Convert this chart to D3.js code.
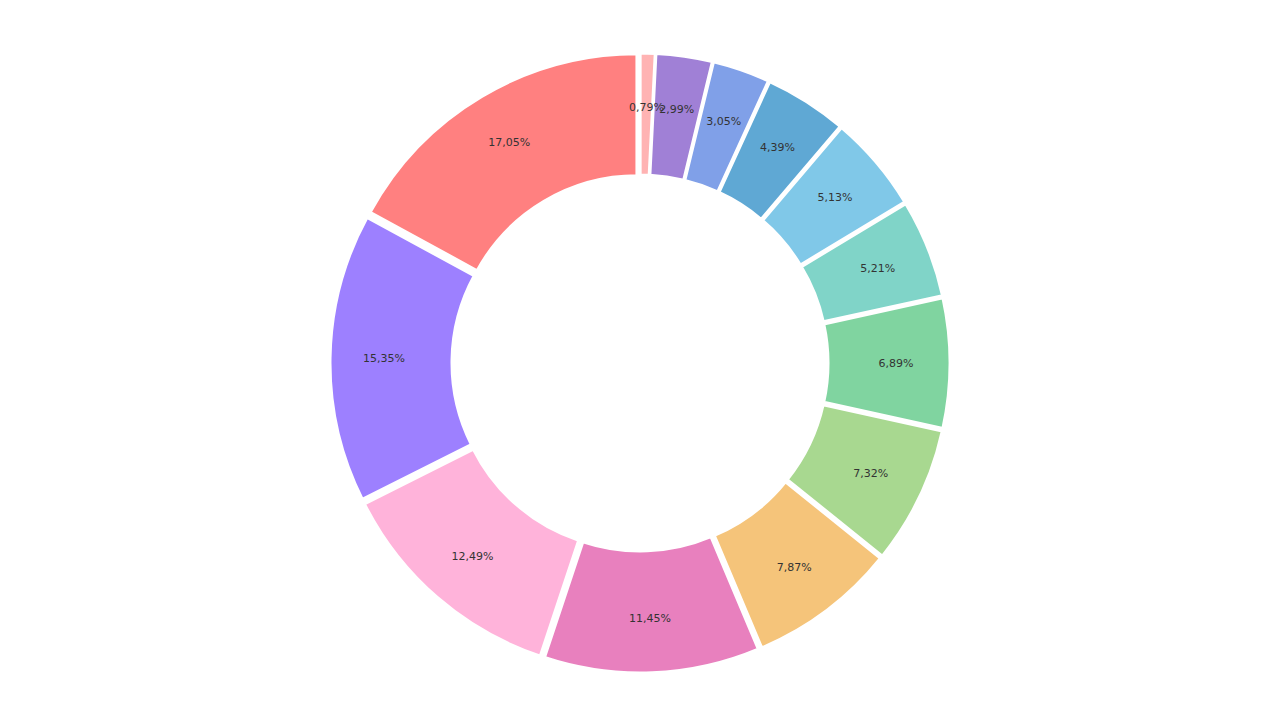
<!DOCTYPE html>
<html>
<head>
<meta charset="utf-8">
<script src="https://cdn.jsdelivr.net/npm/d3@7/dist/d3.min.js"></script>
<style>
  html, body { margin: 0; padding: 0; background: #fff; }
  svg { display: block; }
</style>
</head>
<body>
<svg id="chart"></svg>
<script>
  // slice values, clockwise from 12 o'clock
  var labels = ['0,79%', '2,99%', '3,05%', '4,39%', '5,13%', '5,21%', '6,89%', '7,32%', '7,87%', '11,45%', '12,49%', '15,35%', '17,05%']
  var values = [0.79, 2.99, 3.05, 4.39, 5.13, 5.21, 6.89, 7.32, 7.87, 11.45, 12.49, 15.35, 17.05]
  var colors = ['#FFB3B3', '#A080D6', '#80A0E8', '#5FA8D4', '#80C8E8', '#80D4C8', '#80D4A0', '#A8D890', '#F5C47A', '#E880BE', '#FFB3DA', '#9D80FF', '#FF8080']

  var w = 1280
  var h = 720
  var cx = 640
  var cy = 363
  var outer = 304
  var inner = 182
  var explode = 6
  var labelR = 250

  var svg = d3.select('#chart').attr('width', w).attr('height', h)
  var g = svg.append('g').attr('transform', `translate(${cx},${cy})`)

  var pie = d3.pie().sort(null).value(d => d)
  var arcs = pie(values)
  var arc = d3.arc().innerRadius(inner).outerRadius(outer)

  function offset (d, r) {
    var a = (d.startAngle + d.endAngle) / 2
    return [Math.sin(a) * r, -Math.cos(a) * r]
  }

  g.append('g').selectAll('path')
      .data(arcs)
      .enter()
      .append('path')
      .attr('transform', d => {
        var o = offset(d, explode)
        return `translate(${o[0]},${o[1]})`
      })
      .attr('d', arc)
      .style('fill', (d, i) => colors[i])
      .style('stroke', '#fff')
      .style('stroke-width', 3)

  // labels on top of every wedge
  g.append('g').selectAll('text')
      .data(arcs)
      .enter()
      .append('text')
      .attr('x', d => offset(d, labelR + explode)[0])
      .attr('y', d => offset(d, labelR + explode)[1])
      .attr('text-anchor', 'middle')
      .attr('dominant-baseline', 'central')
      .style('font-family', 'DejaVu Sans, sans-serif')
      .style('font-size', '11px')
      .style('fill', '#333')
      .text((d, i) => labels[i])
</script>
</body>
</html>
